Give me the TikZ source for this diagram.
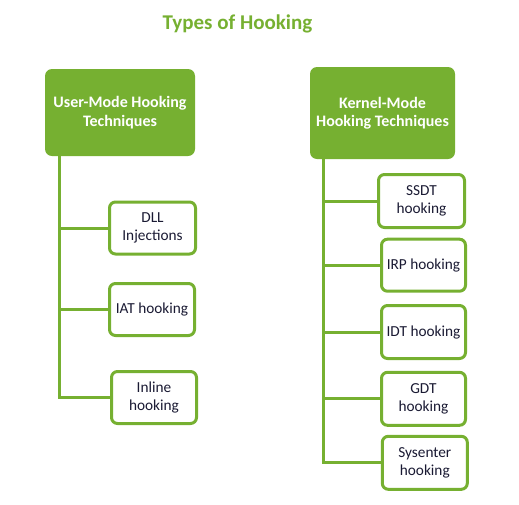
\documentclass[tikz,border=0pt]{standalone}
\usepackage{fontspec}
\setmainfont{Carlito}
\definecolor{hgreen}{HTML}{76B031}
\definecolor{htext}{HTML}{1A1A33}
\tikzset{
  headbox/.style={draw=none, fill=hgreen, rounded corners=7pt, text=white, font=\fontsize{16}{18.5}\selectfont\bfseries, align=center, inner sep=0pt},
  leafbox/.style={draw=hgreen, line width=3pt, fill=white, rounded corners=6pt, text=htext, font=\fontsize{15.3}{18}\selectfont, align=center, inner sep=0pt},
  conn/.style={draw=hgreen, line width=3pt}
}
\begin{document}
\begin{tikzpicture}[x=1pt,y=-1pt]
\useasboundingbox (0,0) rectangle (519,504);
\node[text=hgreen, font=\fontsize{21}{24}\selectfont\bfseries] (title) at (237.5,24) {Types of Hooking};
\node[headbox, minimum width=150pt, minimum height=87pt] (user) at (120,112.5) {User-Mode Hooking\\Techniques};
\node[headbox, minimum width=145pt, minimum height=92pt] (kern) at (382.5,113) {Kernel-Mode\\Hooking Techniques};
\node[leafbox, minimum width=86pt, minimum height=52pt] (dll) at (152.5,228) {DLL\\Injections};
\node[leafbox, minimum width=85pt, minimum height=52pt] (iat) at (152,309.5) {IAT hooking};
\node[leafbox, minimum width=85pt, minimum height=52pt] (inl) at (154,397.5) {Inline\\hooking};
\node[leafbox, minimum width=86pt, minimum height=53pt] (ssdt) at (421.5,201) {SSDT\\hooking};
\node[leafbox, minimum width=84pt, minimum height=52pt] (irp) at (423.5,265.2) {IRP hooking};
\node[leafbox, minimum width=84pt, minimum height=53pt] (idt) at (423.5,332) {IDT hooking};
\node[leafbox, minimum width=84pt, minimum height=53pt] (gdt) at (423.5,398.8) {GDT\\hooking};
\node[leafbox, minimum width=85pt, minimum height=53pt] (sys) at (424.8,462.8) {Sysenter\\hooking};
\coordinate (ut) at (59,156);
\coordinate (kt) at (323.5,159);
\draw[conn] (ut) |- (dll.west);
\draw[conn] (ut) |- (iat.west);
\draw[conn] (ut) |- (inl.west);
\draw[conn] (kt) |- (ssdt.west);
\draw[conn] (kt) |- (irp.west);
\draw[conn] (kt) |- (idt.west);
\draw[conn] (kt) |- (gdt.west);
\draw[conn] (kt) |- (sys.west);
\end{tikzpicture}
\end{document}
